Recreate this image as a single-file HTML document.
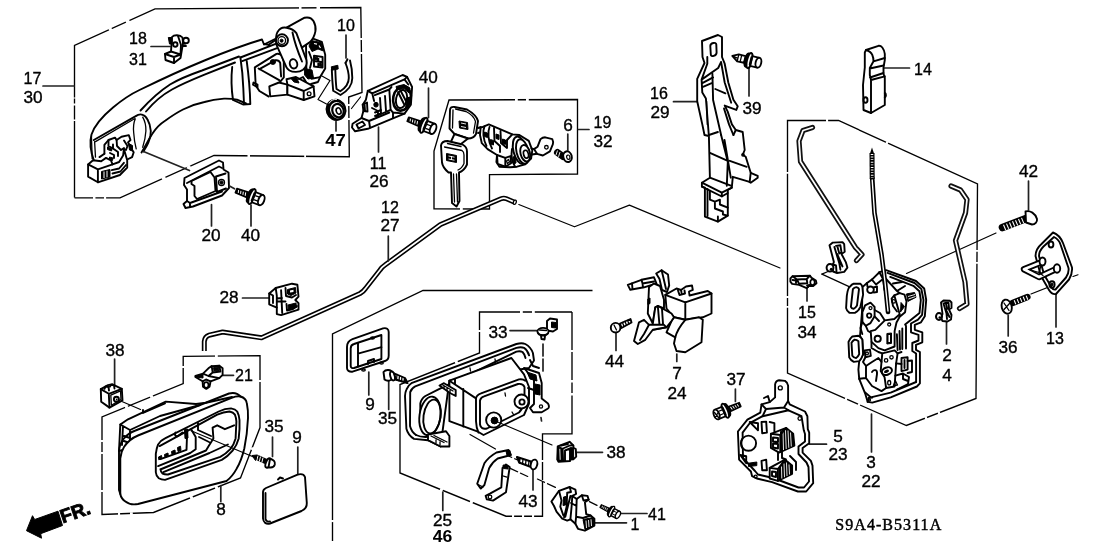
<!DOCTYPE html>
<html>
<head>
<meta charset="utf-8">
<title>Door Locks - S9A4-B5311A</title>
<style>
html,body{margin:0;padding:0;background:#fff;}
body{width:1108px;height:553px;overflow:hidden;font-family:"Liberation Sans",sans-serif;}
svg{display:block;}
.t{font-family:"Liberation Sans",sans-serif;font-size:16px;fill:#000;stroke:#000;stroke-width:0.350px;text-anchor:middle;}
.tb{font-family:"Liberation Sans",sans-serif;font-size:16px;font-weight:bold;fill:#000;text-anchor:middle;}
.l{fill:none;stroke:#222;stroke-width:1.7;stroke-linecap:round;stroke-linejoin:round;}
.lt{fill:none;stroke:#000;stroke-width:1.200;stroke-linecap:round;stroke-linejoin:round;}
.bx{fill:none;stroke:#000;stroke-width:1.350;stroke-linecap:butt;stroke-linejoin:miter;}
.p{fill:none;stroke:#000;stroke-width:1.9;stroke-linecap:round;stroke-linejoin:round;}
.pw{fill:#fff;stroke:#000;stroke-width:1.9;stroke-linecap:round;stroke-linejoin:round;}
.pt{fill:none;stroke:#000;stroke-width:1.3;stroke-linecap:round;stroke-linejoin:round;}
.k{fill:#000;stroke:#000;stroke-width:1;stroke-linejoin:round;}
.d{fill:none;stroke:#111;stroke-width:1.4;stroke-dasharray:28 4 8 4;}
</style>
</head>
<body>
<svg width="1108" height="553" viewBox="0 0 1108 553">
<rect x="0" y="0" width="1108" height="553" fill="#fff"/>
<defs>
<g id="bolt">
<path d="M-16,-2.100 L-3,-2.700 L-3,2.700 L-16,2.100 Z" fill="#000" stroke="#000" stroke-width="1.800" stroke-linejoin="round"/>
<path d="M-14,-1.400 L-13.300,1.400 M-11.500,-1.500 L-10.800,1.500 M-9,-1.600 L-8.300,1.600 M-6.500,-1.700 L-5.800,1.700" stroke="#fff" stroke-width="1" fill="none"/>
<ellipse cx="-1.200" cy="0" rx="2.400" ry="7" fill="#000" stroke="#000" stroke-width="1.600"/>
<ellipse cx="0.800" cy="0" rx="2.500" ry="8" fill="#fff" stroke="#000" stroke-width="1.900"/>
<path d="M2.500,-5.400 L10.800,-5.400 L10.800,5.400 L2.500,5.400 Z" fill="#fff" stroke="#000" stroke-width="1.900" stroke-linejoin="round"/>
<path d="M3.500,-2 L8,-2 M3.500,2.200 L8,2.200" stroke="#000" stroke-width="1.300" fill="none"/>
<path d="M2.300,-4.500 L2.300,4.500" stroke="#000" stroke-width="2.600"/>
<ellipse cx="10.800" cy="0" rx="2.900" ry="5.400" fill="#fff" stroke="#000" stroke-width="1.900"/>
</g>
</defs>
<g id="labels" style="filter:grayscale(1)">
<text class="t" x="32.500" y="84">17</text><text class="t" x="33" y="103" transform="translate(33,0) scale(1.075,1) translate(-33,0)">30</text>
<text class="t" x="138" y="43.700">18</text><text class="t" x="138" y="64.500">31</text>
<text class="t" x="346" y="31">10</text>
<text class="tb" x="335.500" y="146" transform="translate(335.500,0) scale(1.160,1) translate(-335.500,0)">47</text>
<text class="t" x="211" y="241.200" transform="translate(211,0) scale(1.075,1) translate(-211,0)">20</text>
<text class="t" x="250.500" y="241.200" transform="translate(250.500,0) scale(1.075,1) translate(-250.500,0)">40</text>
<text class="t" x="428.300" y="83.500" transform="translate(428.300,0) scale(1.075,1) translate(-428.300,0)">40</text>
<text class="t" x="378" y="169">11</text><text class="t" x="379" y="187" transform="translate(379,0) scale(1.075,1) translate(-379,0)">26</text>
<text class="t" x="568" y="131" transform="translate(568,0) scale(1.075,1) translate(-568,0)">6</text>
<text class="t" x="602.500" y="128">19</text><text class="t" x="603" y="147" transform="translate(603,0) scale(1.075,1) translate(-603,0)">32</text>
<text class="t" x="390" y="213">12</text><text class="t" x="390" y="231.500" transform="translate(390,0) scale(1.075,1) translate(-390,0)">27</text>
<text class="t" x="659" y="99">16</text><text class="t" x="660" y="118" transform="translate(660,0) scale(1.075,1) translate(-660,0)">29</text>
<text class="t" x="752" y="114" transform="translate(752,0) scale(1.075,1) translate(-752,0)">39</text>
<text class="t" x="923" y="75">14</text>
<text class="t" x="1028.500" y="177" transform="translate(1028.500,0) scale(1.075,1) translate(-1028.500,0)">42</text>
<text class="t" x="1055" y="344">13</text>
<text class="t" x="1008" y="353" transform="translate(1008,0) scale(1.075,1) translate(-1008,0)">36</text>
<text class="t" x="947" y="361.200" transform="translate(947,0) scale(1.075,1) translate(-947,0)">2</text><text class="t" x="947" y="381" transform="translate(947,0) scale(1.075,1) translate(-947,0)">4</text>
<text class="t" x="807" y="318.400">15</text><text class="t" x="807" y="338.500" transform="translate(807,0) scale(1.075,1) translate(-807,0)">34</text>
<text class="t" x="838" y="442" transform="translate(838,0) scale(1.075,1) translate(-838,0)">5</text><text class="t" x="838" y="460" transform="translate(838,0) scale(1.075,1) translate(-838,0)">23</text>
<text class="t" x="871" y="468" transform="translate(871,0) scale(1.075,1) translate(-871,0)">3</text><text class="t" x="871" y="487" transform="translate(871,0) scale(1.075,1) translate(-871,0)">22</text>
<text class="t" x="736" y="385" transform="translate(736,0) scale(1.075,1) translate(-736,0)">37</text>
<text class="t" x="677" y="379.500" transform="translate(677,0) scale(1.075,1) translate(-677,0)">7</text><text class="t" x="677" y="399" transform="translate(677,0) scale(1.075,1) translate(-677,0)">24</text>
<text class="t" x="614.500" y="366.700" transform="translate(614.500,0) scale(1.075,1) translate(-614.500,0)">44</text>
<text class="t" x="616" y="458" transform="translate(616,0) scale(1.075,1) translate(-616,0)">38</text>
<text class="t" x="657" y="520.300">41</text>
<text class="t" x="635" y="530">1</text>
<text class="t" x="528" y="507" transform="translate(528,0) scale(1.075,1) translate(-528,0)">43</text>
<text class="t" x="442.500" y="526" transform="translate(442.500,0) scale(1.075,1) translate(-442.500,0)">25</text><text class="tb" x="442.500" y="542.300" transform="translate(442.500,0) scale(1.1,1) translate(-442.500,0)">46</text>
<text class="t" x="498" y="338" transform="translate(498,0) scale(1.075,1) translate(-498,0)">33</text>
<text class="t" x="370" y="410" transform="translate(370,0) scale(1.075,1) translate(-370,0)">9</text>
<text class="t" x="387.500" y="424.200" transform="translate(387.500,0) scale(1.075,1) translate(-387.500,0)">35</text>
<text class="t" x="297" y="443" transform="translate(297,0) scale(1.075,1) translate(-297,0)">9</text>
<text class="t" x="274" y="432" transform="translate(274,0) scale(1.075,1) translate(-274,0)">35</text>
<text class="t" x="221" y="515" transform="translate(221,0) scale(1.075,1) translate(-221,0)">8</text>
<text class="t" x="244" y="381">21</text>
<text class="t" x="115" y="356" transform="translate(115,0) scale(1.075,1) translate(-115,0)">38</text>
<text class="t" x="229" y="303" transform="translate(229,0) scale(1.075,1) translate(-229,0)">28</text>
<text x="835.300" y="530" style="font-family:'Liberation Serif',serif;font-weight:normal;font-size:16px;fill:#000;stroke:#000;stroke-width:0.450px;letter-spacing:1.050px;">S9A4-B5311A</text>
</g>
<g id="box17">
<!-- dashed box around outer handle -->
<path class="bx" d="M74.500,197.500 V45.500 L155,8.800 L360.800,7.500 L362,92.500 L348.700,97 L349.300,156.700 L214,155.500 L120,197.800 L74.500,197.800"/>
<path d="M74.5,97.5 v1.05 M74.5,103.5 v2.1 M74.5,119.5 v1.4 M93,197.5 h2.45 M104,197.500 h2.1 M162,179 l3.5,-1.54 M187,168 l3.5,-1.54 M109,30 l2.8,-1.26 M126,22.300 l3.5,-1.61 M299,8 h2.500 M316.500,7.800 h3.500 M361.200,38 v2.100 M361.400,52 v2.100 M348.500,104 v2.1 M348.500,118 v2.1 M306,156.300 h-1.800 M250,155.800 h-2.500" stroke="#fff" stroke-width="3" fill="none"/>
<path class="l" d="M43,86 H74"/>
<path class="l" d="M151,46.5 H170"/>
</g>
<g id="handle">
<!-- handle body -->
<path class="p" d="M94,161 C90,150 90,140 91.5,134.5 C95,124 104,115 113,107.5 C122,100 131,94 139.5,90 C160,80 185,68.5 204.5,60.5 C225,52 245,44.5 262,39.5 L264,44.5 L275,39"/>
<path class="p" d="M140.5,110.5 C150,100 160,91 170,84.5 C181,78 192,74 202,70.5 L239,56.5"/>
<path class="p" d="M146,111.5 C153,103 162,95 172,89.5 C182,84 194,79 204.5,74.7 L235,62.5"/>
<path class="p" d="M141.5,152.5 C147,143 150,137 152.5,133.5 C156,128 160,124 165.5,120.5 C171,116.5 177,112.5 183,109.5 C190,106 197,103.5 204.5,102 C211,100 218,99 224,98.6 C229,98.5 234,99 237,99.7 L246,103.5"/>
<!-- end opening -->
<path class="p" d="M93.800,140 L135.300,116.400 C138,114.500 141,114 142.700,114.800 C145,115.500 146.500,117.500 147.500,119.600 C149.500,123 150.500,127 150.800,131 C151,135 150,139 148.400,142.400 C147,146 145,149 143.500,151.400"/>
<path class="pt" d="M95.500,141.600 L134.500,118.800 M135.300,118.800 C133.500,123 133.200,128 133.700,132.700 C134,138 135,144 136.200,148.900 M142.700,117.200 C145,121 146,126 145.900,131 C145.500,137 144.500,142 142.700,147.300"/>
<path class="pt" d="M94.600,141.600 L95.500,157.100 M91.400,136 L92.200,158.700"/>
<!-- inner mechanism -->
<path class="p" d="M104.400,153.800 L104.400,144.900 L108.500,140 L115,137.600 L116.600,140 L121.500,136.700 L128.800,135.100 L130.500,140 L128,142.400 L130.500,147.300 L133.700,152.200 L132.100,157.100 L127.200,159.500"/>
<path class="p" d="M108.500,140 L108.500,146 L113,148.500 L113,144.500 M116.600,140 L117,146 L121,150 L124,148 M113,148.500 L118,152 L118,156 M104.400,153.800 L99.500,157.100 M110,153 L114,155 L114,158"/>
<path class="k" d="M107.500,147 L112,149 L111.500,151 L107.500,149.500 Z M109.500,157 L113,158 L112.500,160.500 L109.500,159.500 Z M128.500,143.500 L132.500,145.500 L132.500,151 L129.500,150 Z"/>
<path class="p" d="M124,140.500 L127.500,146 L126,150 L123.900,149"/>
<!-- latch block -->
<path class="pw" d="M88.100,164.400 L93,160.300 L101.200,161.200 L106,157.900 L110.900,160.300 L112.600,164.400 L119.100,162 L123.100,155.500 L123.900,149 L127.200,160.300 L127.200,167.700 L119.900,175 L97.900,182.300 L88.100,176.600 Z"/>
<path class="p" d="M88.100,164.400 L97.900,169.300 L97.900,182.300 M97.900,169.300 L112.600,164.400 M111.700,170.100 L119.100,168.500 L123.900,162.800 M112.500,173.500 L120.500,171.500 L126,165"/>
<path class="k" d="M101.500,171.500 L110,169.500 L110,177 L101.500,179 Z"/>
<path d="M104,171.500 L104,178 M107,170.800 L107,177.300" stroke="#fff" stroke-width="1" fill="none"/>
<!-- right end: vertical cap -->
<path class="p" d="M232.200,67 C231,78 231.500,90 233,100 M240.400,57.500 C242,68 243,80 243.300,88 L244,104 M246.700,61 C248.500,74 250,90 250.300,104 M233,100 L243,104.500 L250.300,104"/>
<path class="p" d="M240.400,57.500 L280.200,42.100 M242.200,61.100 L281.100,46.600 M264,44 L268.500,44.800 L276.500,39.400"/>
<!-- housing opening -->
<path class="p" d="M254.800,67.400 L276.500,53.900 C279,53.500 281,54.500 282,55.700 L283.800,62 L283.800,77.400 L279.200,82.800 M254.800,67.400 L255.700,85.500 L259.400,91 L268.400,96.400"/>
<path class="p" d="M259.400,69.200 L275.600,60.200 C278,60 279.500,61 280.200,62.900 L281.100,76.500 M258.500,68.500 L279.200,80.100"/>
<ellipse class="k" cx="272.900" cy="62" rx="2.600" ry="2.400"/>
<path class="p" d="M253,84.600 L257.500,87.300 L257.500,84.500 L253.500,82.500 Z"/>
<!-- lower block -->
<path class="pw" d="M269.300,86.400 L279,82.500 L287.400,84.600 L287.400,94.600 L270.200,96.400 Z"/>
<path class="pw" d="M286.500,79.200 L296,77 L313.600,86.400 L314.500,96.400 L303.700,100 L287.400,94.600 L287.400,84.600 Z"/>
<path class="p" d="M287.400,84.600 L303.700,91 L313.600,86.400 M303.700,91 L303.700,100"/>
<circle class="pt" cx="309.100" cy="93.700" r="1.900"/>
<path class="k" d="M291,78.500 L296.500,77.500 L299,83 L294,82 Z"/>
<path class="p" d="M299,79 L303,77 L306,82"/>
<!-- mechanism behind arm -->
<path class="pw" d="M306,42 L312.300,38.400 L321.800,41.800 L325.200,54.700 L325.200,68.500 L320.100,77.100 L311.500,78.800 L306.400,70 Z"/>
<path class="k" d="M311.500,40.500 L321,42.500 L323.500,51 L318,49 L312,51.500 L309,46 Z M304.600,68.500 L312,70 L313.500,78 L308,79 L304.600,75 Z"/>
<path d="M314,43.500 L317,44.200 M319,45.500 L320.500,48" stroke="#fff" stroke-width="1.200" fill="none"/>
<path class="p" d="M314,55.600 L322.600,57 L322.600,67.600 L314,66.500 Z M318.300,56.500 L318.300,67 M314,61 L322.600,62.300 M309,52 L312,60 L310,68 M320.100,77.100 L318,82 L311,84"/>
<path class="k" d="M315,57 L317.500,57.400 L317.500,60 L315,59.600 Z M319.300,63.300 L321.800,63.700 L321.800,66.500 L319.300,66.100 Z"/>
<!-- crank cylinder -->
<path class="pw" d="M286.500,27.700 L304.600,17.700 C309,16.800 312,18.500 313.600,21.300 C315.600,25 316,28 315.400,31.300 C314.500,36 312.500,39.500 310,42.100 L299.100,49.400 Z"/>
<!-- crank arm -->
<path class="pw" d="M276.500,44.800 C275.500,39 276,35 277.400,32.200 C279.500,28.500 283,27 286.500,27.700 C291,28.500 294.500,30.500 296.400,33.100 L306.400,60 C307.200,64 306,67.500 303,69.800 C299,72.500 293,72.500 289.500,70.500 C288,69.500 287,68.500 286.500,67.400 Z"/>
<circle class="p" cx="282" cy="40.300" r="6"/>
<circle class="pt" cx="281.800" cy="40.500" r="3.800"/>
<circle class="k" cx="281.600" cy="40.700" r="1.500"/>
<ellipse class="p" cx="293.500" cy="63.800" rx="3.700" ry="4.700" transform="rotate(-15 293.500 63.800)"/>
<path class="p" d="M292.500,32.500 C294,40 298,52 302,61.500"/>
</g>
<g id="p18">
<path class="pw" d="M172,37 C174,34.5 180,34.5 182.5,37.5 L183,43 L180.5,58 L174,63 L165.5,60 L165,54 L171,51.5 Z"/>
<path class="p" d="M171,51.5 L180.5,54.5 M174,57 L174,63 M165,54 L174,57 L180.5,54.5 M178,36 L181,45 L180.5,54"/>
<circle class="p" cx="175.3" cy="44.5" r="2.2"/>
<circle class="p" cx="186" cy="40.5" r="2.8"/>
<path class="k" d="M168.300,37.500 L172,37.500 L172.300,44 L169.500,44 Z"/><path class="p" d="M183,46 L186,46 M183,43.500 L185,43.800"/>
</g>
<g id="p10">
<path class="l" d="M346,35 V58"/>
<path class="p" d="M347.500,59.300 L345.500,63 M350,60.500 C351.500,66 352.300,72 352.300,78 C352.300,86 348,90.500 340.500,95 L333.200,90.800 C332.500,84 332,76 331.800,69.500"/>
<path class="p" d="M345.500,63 C347.500,68 348.800,73 348.800,78 C348.800,84 346,87.500 340.300,91.300 L336.500,89 C335.800,83 335.500,76 335.300,69.500"/>
<path class="k" d="M331.300,66.800 L337.800,65.300 L338.200,69 L331.800,70.200 Z"/>
<path class="lt" d="M321,75.500 L330,80.500 L318,99.500 L326.500,104"/>
</g>
<g id="p47">
<ellipse cx="336" cy="109.800" rx="9.600" ry="10.400" transform="rotate(-20 336 109.800)" fill="#000" stroke="#000" stroke-width="1.500"/>
<ellipse cx="337.200" cy="110.200" rx="7" ry="8.300" transform="rotate(-20 337.200 110.200)" fill="#fff"/>
<ellipse cx="338" cy="110.600" rx="5.600" ry="6.800" transform="rotate(-20 338 110.600)" fill="none" stroke="#000" stroke-width="2.200"/>
<ellipse cx="338.600" cy="111" rx="2.300" ry="3.300" transform="rotate(-20 338.600 111)" fill="#fff" stroke="#000" stroke-width="1.600"/>
<path d="M329,103.500 C330.500,100.500 333.500,99 337,99.300" stroke="#fff" stroke-width="1" fill="none"/>
<path class="l" d="M336,121.500 V131"/>
</g>
<g id="p20">
<path class="l" d="M143.5,151.5 L189.5,170.5"/>
<path class="pw" d="M184.5,178 L219,160.5 L223,162.5 L223.5,169.5 L228.5,172.5 L229,188 L222,195.5 L193,206.5 L185.5,208 L183.5,204 L187,201 L187,189.5 L184,185 Z"/>
<path class="p" d="M191.5,181 L210.5,172 L214.5,177.5 L215.5,191 L197,199 L194.5,196 L194.5,186 L191.5,184 Z"/>
<path class="p" d="M187,183 L219,166.5 L222,168 M216,176.5 L225.5,173.5 M217,192 L226,188.5 M216,176.5 L217,192 M190,203 L222,191.5 M187,201 L190,203 L190,207"/>
<circle class="k" cx="221.5" cy="182.5" r="1.6"/><circle class="pt" cx="221.5" cy="182.5" r="3"/>
<path class="l" d="M211.5,204.5 V226 M251,205 V226"/>
<path class="l" d="M229.5,186 L234.5,188.8" />
</g>
<g id="bolt40a"><use href="#bolt" transform="translate(251.200,196.300) rotate(20.500)"/></g>
<g id="p11">
<path class="lt" d="M360.500,97 L351.500,108.500"/>
<path class="pw" d="M367.800,90.800 L402.600,75 L407.100,76.900 L412.100,87 L410.900,104.700 L404.500,113.600 L389.300,119.900 L367.800,128.800 L355.100,131.300 L352,127.500 L352.600,123.700 L361.500,118 L363.400,111.100 L362.700,104.700 L365.900,99.700 Z"/>
<path class="p" d="M367.800,90.800 L372.200,93.300 L404.500,79.400 L407.100,76.900 M404.500,79.400 L408.300,84.500 M372.200,93.300 L374.100,101"/>
<path class="p" d="M374.800,95.200 L389.300,89.500 L390.600,109.800 L376.500,116 M389.300,89.500 L391.500,87 M380,98 L381,113 M385,96 L386,111"/>
<ellipse cx="402" cy="98.400" rx="8.800" ry="12.300" transform="rotate(12 402 98.400)" fill="#fff" stroke="#000" stroke-width="2.600"/>
<ellipse cx="401.500" cy="99" rx="5.400" ry="9.200" transform="rotate(12 401.500 99)" fill="#fff" stroke="#000" stroke-width="1.900"/>
<path class="k" d="M396,86.500 L404,84.500 L410,88 L409,93 L404,88.500 L397,90 Z M407,98 L410,97 L409,105 L405.500,108 Z"/>
<path class="p" d="M398,92 L404,104 M400.500,90.500 L406.500,102"/>
<path class="p" d="M390.600,109.800 L393,112.500 L404.500,113.600 M393,112.500 L393,118"/>
<ellipse class="k" cx="376" cy="104.700" rx="2.200" ry="2.400"/>
<path class="p" d="M362.700,104.700 L367,102.500 L367.500,111.500 L363.400,111.100 M364.500,104 L365,111 M372,108 L378,111 L378,117 M375,112.500 L381,110 M375,116 L381,113.500"/>
<path class="p" d="M361.500,118 L369,121 L370,127.500 M369,121 L389.300,112.500 M356.500,124.500 L362.500,121.500 L365,125 L358.500,128.500 Z"/>
<path class="l" d="M378.500,127 V152"/>
</g>
<g id="bolt40b"><path class="l" d="M428.500,88 V117.500"/><use href="#bolt" transform="translate(423,125) rotate(21)"/></g>
<g id="box19">
<path class="bx" d="M449,100 L577.500,99.500 V174 L489.500,174.700 V209 L434,208.800 V151 Z"/>
<path d="M515,99.800 h2.8 M526,99.700 h2.8 M460,209 h2.8" stroke="#fff" stroke-width="3" fill="none"/>
<path class="l" d="M578.500,129.500 H589 M567.800,134 V150"/>
</g>
<g id="keys">
<!-- key 1 -->
<path class="pw" d="M450,110 C450,107.500 452,106.500 454.500,107 L467,109.500 C473,113 477,117 478,121 L476,134 C474.500,137 471.500,138.500 468,138.500 L454.500,134 L449.500,128.500 Z"/>
<path class="pt" d="M453,110 L452.500,128 M455.500,109 L466,111.500 C471,114 474.500,118 475.500,121.500 L473.500,133"/>
<path class="pw" d="M454.500,134 L449,146 L461,144 L468,138.500 Z"/>
<path class="k" d="M459,121 L467.500,122.500 L468,129.500 L459.500,128 Z"/>
<path d="M461,123 L466,124 M461,126.500 L466,127.500" stroke="#fff" stroke-width="0.900"/>
<path class="p" d="M478,128 L481,127 L481.500,132 L478,133"/>
<!-- key 2 -->
<path class="pw" d="M441,145.500 C441.500,142.500 444,141 447.500,141 L462.500,144.500 C465.500,146 467,148.500 467,151.500 L467,164.500 C465,169 462,171.500 459,172.500 L459.500,201 L456.500,206.500 L452,203 L451,172.500 L448.500,172.500 C445,169.500 442.500,166 442,162.500 Z"/>
<path class="pt" d="M444.500,147 L462,150.500 C463.500,151.500 464,153 464,155 L464,163.500 C462.500,167 460.500,169 458,170 M453.500,174 L454.500,202 M456.500,174 L457.500,202 M447.500,143.500 L461,146.500"/>
<path class="k" d="M446.500,153.500 L456.500,155.500 L456.500,162.500 L446.500,160.500 Z"/>
<path d="M448.500,156 L454.500,157.200 M448.500,159 L454.500,160.200 M451.500,156 V160" stroke="#fff" stroke-width="0.900" fill="none"/>
</g>
<g id="cyl">
<path class="pw" d="M480.600,127.900 L488.800,124.400 L512.300,134.400 L519.400,135 L528.800,140.900 L532.300,150.300 L531.100,158.500 L525.200,164.400 L517,166.700 L510,167.300 L499.400,166.700 L496.400,162 L497,155 L487.600,149.100 L481.800,143.200 L480,135 Z"/>
<path class="p" d="M484.500,126.300 C482.500,131 483,139 486.500,146 M489.500,127 C487.500,132 488,141 492,148.500 M494,128 L494.500,141 L500,146 L500,152 M500.500,131 L501,143 L507,148 L507,140 L512.300,134.400"/>
<path class="k" d="M484.500,132 L487.500,133 L487.500,137.500 L484.500,136.500 Z M490.500,139.500 L493.500,140.500 L493.500,145 L490.500,144 Z M496,134 L499,135 L499,139.500 L496,138.500 Z M502.500,139 L505.500,140 L505.500,144.500 L502.500,143.500 Z"/>
<path class="pw" d="M497,155 L505.300,157.900 L510.500,156.100 L511.100,163.200 L505.300,166.700 L497.600,163.800 Z"/>
<path class="p" d="M505.300,157.900 L505.300,166.700"/>
<path class="pt" d="M506.500,161 L508.500,159.500 L509.500,162 L507.500,163.500 Z"/>
<ellipse cx="520" cy="150.300" rx="6.600" ry="14" transform="rotate(-14 520 150.300)" fill="#fff" stroke="#000" stroke-width="2"/>
<ellipse cx="522.500" cy="151.500" rx="6" ry="12.500" transform="rotate(-14 522.500 151.500)" fill="#fff" stroke="#000" stroke-width="1.900"/>
<ellipse cx="525.200" cy="153.200" rx="4.700" ry="8.400" transform="rotate(-14 525.200 153.200)" fill="#fff" stroke="#000" stroke-width="1.900"/>
<ellipse cx="526" cy="154.200" rx="2.400" ry="4" transform="rotate(-14 526 154.200)" fill="#fff" stroke="#000" stroke-width="1.700"/>
<path class="k" d="M513,157 L515.500,156 L516,163 L513.500,164 Z"/>
<path class="p" d="M512,149 C511,155 512,162 515,166.500"/>
<path class="pw" d="M534,149.100 L537.600,146.700 L540.500,139.100 C542,137.800 543.500,137.300 545.200,137.300 L552.300,139.100 C553.200,140.800 553.300,142.500 552.800,144.400 L549.900,151.400 L542.900,155.500 L537,153.800 Z"/>
<circle class="pt" cx="546.400" cy="147.300" r="1.800"/>
<path class="p" d="M531.500,148.500 L534,149.100 M532,154.500 L537,153.800"/>
</g>
<g id="screw6">
<path d="M557.500,152.500 L563,156.500" stroke="#000" stroke-width="7" stroke-linecap="round" fill="none"/>
<path d="M557.500,150.500 L556,155 M560,152 L558.500,156.800" stroke="#fff" stroke-width="0.900" fill="none"/>
<ellipse cx="567.500" cy="156.700" rx="4.200" ry="5.400" transform="rotate(-15 567.500 156.700)" fill="#fff" stroke="#000" stroke-width="2"/>
<ellipse cx="568.300" cy="157.200" rx="1.600" ry="2.200" transform="rotate(-15 568.300 157.200)" fill="none" stroke="#000" stroke-width="1.200"/>
</g>
<g id="rod12">
<path d="M204.300,351 L204.300,341.500 Q204.800,336.500 209,335.200 L222.600,332 L261.600,337.800 L360,293.500 Q363.500,291.500 365.500,288.500 L380,270 Q382,267 385,265 L440.500,224.500 L501,198.800 Q503.800,197.600 506.500,198.800 L514,202" fill="none" stroke="#000" stroke-width="5" stroke-linejoin="round" stroke-linecap="butt"/>
<path d="M204.300,351.800 L204.300,341.500 Q204.800,336.500 209,335.200 L222.600,332 L261.600,337.800 L360,293.500 Q363.500,291.500 365.500,288.500 L380,270 Q382,267 385,265 L440.500,224.500 L501,198.800 Q503.800,197.600 506.500,198.800 L515,202.400" fill="none" stroke="#fff" stroke-width="1.700" stroke-linejoin="round" stroke-linecap="butt"/>
<ellipse class="pt" cx="514.800" cy="202.200" rx="1.400" ry="2.200" transform="rotate(20 514.800 202.200)" fill="#fff"/>
<path class="l" d="M388.300,236 V261"/>
</g>
<g id="p16">
<path class="l" d="M673.500,101.700 H697"/>
<!-- outline -->
<path class="pw" d="M702,41 L718,35 L722,37 L722,57 L724.700,63.700 L728.300,82.500 L733.400,99.800 L737.700,106.300 L736.300,109.900 L724.700,105.600 L727.600,111.400 L731.900,124.400 L735.800,130 L742.700,132 L744.700,150 L742.700,154.800 L745.700,156.800 L750.700,172.800 L757.700,175.800 L757.700,177.700 L750.700,182.700 L748.700,181.700 L732.800,176.800 L731.800,187.700 L727.800,190 L727.800,215.600 L717.900,221.600 L704.900,216.600 L704.900,187.700 L701.900,186.700 L701.900,182.700 L709.900,177.700 L708.900,136 L704.500,135 L702.300,124.400 L697.200,101.300 L697.200,78.900 L704.500,63 L702.500,57 Z"/>
<!-- slot -->
<path class="p" d="M710.300,46 C710.300,43 716.300,41.500 716.300,44.500 L716.600,52.500 C716.600,56 710.800,57.500 710.800,54.500 Z"/>
<!-- upper inner -->
<path class="p" d="M707.300,57 L707.300,63.700 L701.600,79.600 L702.300,92.600 L705.900,98.400 L708.800,135 M701.600,79.600 L718.200,68 L721,62.200 M702.300,83.200 L713.100,77.400 M703,86.800 L711.700,83.200"/>
<path class="p" d="M712.400,73.800 L713.100,100 L721.100,135 M715.300,89 L725.400,93.300"/>
<path class="p" d="M721.100,62.200 L724.700,82.500 L731.200,102.700 M724,108.500 L729,124.400 L733.400,135"/>
<path class="pt" d="M706.600,101.300 L707.300,124.400"/>
<!-- lower inner -->
<path class="p" d="M708.900,135 L717.900,132 M709.900,152.900 L727.800,160.800 M729.800,160.800 L746.700,166.800 M721.100,135 L727.800,161.800 L726.800,185.700 M724.500,140 L730.800,177.700 M733.400,135 L735.800,130 M750.700,172.800 L749.700,181.700"/>
<path class="p" d="M701.900,182.700 L721.800,192.700 L731.800,187.700 M701.900,186.700 L721.800,196.500 M721.800,192.700 L721.800,196.500 L727.800,193 M709.900,177.700 L730.800,185.700"/>
<path class="p" d="M709.900,190.700 L709.900,199.700 L714.900,201.600 L714.900,208.500 L722.900,211.500 L722.900,214.500 L727.800,215.600 M714.900,201.600 L719.900,199.700 L719.900,204.500 L727.800,207.600 M717.900,221.600 L717.900,216.500 M707.500,189 L707.500,216"/>
<circle class="pt" cx="743" cy="154.800" r="1.200"/>
</g>
<g id="bolt39">
<path class="l" d="M749,68 V96"/>
<g transform="translate(748.700,60.400) rotate(13.500)">
<path d="M-17,-0.500 L-11,-3.600 L-4,-3.400 L-4,3.400 L-11,3.600 Z" fill="#fff" stroke="#000" stroke-width="1.900" stroke-linejoin="round"/>
<path d="M-11,-3.600 L-11,3.600 M-8,-3.500 L-8,3.500 M-17,-0.500 L-11,0.500" stroke="#000" stroke-width="1.300" fill="none"/>
<ellipse cx="-1.500" cy="0" rx="2.400" ry="7" fill="#000" stroke="#000" stroke-width="1.600"/>
<ellipse cx="0.800" cy="0" rx="2.500" ry="7.800" fill="#fff" stroke="#000" stroke-width="1.900"/>
<path d="M2.500,-5 L10,-5 L10,5 L2.500,5 Z" fill="#fff" stroke="#000" stroke-width="1.900" stroke-linejoin="round"/>
<path d="M2.300,-4.200 L2.300,4.200" stroke="#000" stroke-width="2.600"/>
<ellipse cx="10" cy="0" rx="2.800" ry="5" fill="#fff" stroke="#000" stroke-width="1.900"/>
</g>
</g>
<g id="p14">
<path class="l" d="M884.500,68 H909.500"/>
<path class="pw" d="M866,50 L878.500,45.800 C880,45.600 881.500,46.500 882.300,47.500 C883.800,49.500 884.500,51.500 884.800,53.800 L884.800,60 L883.500,67.500 L883.500,73.800 L884.800,77.500 L884.800,105 L871,113 L863.500,110 L863,85 L864.800,67.500 L864.800,52.500 Z"/>
<path class="p" d="M866,50 C869,51 871.500,53 872.300,55 C873.200,57 873.500,59 873.500,61.300 L884.800,58 M873.500,61.300 L869.800,68 L869.800,75 L871,80 L871,113 M869.800,68.500 L883.500,65.500 M870,77.500 L883.500,73 M871,80 L884.800,76.300"/>
<ellipse class="p" cx="865.500" cy="100" rx="2" ry="2.800"/>
<path class="p" d="M884.800,93 C886.300,93.500 886.300,97 884.800,97.500"/>
</g>
<g id="box3">
<path class="bx" d="M787.500,373 V120.500 H838.500 L977.500,184 L976,398.500 L906.400,425.500 Z"/>
<path d="M826,120.500 h2.1 M787.500,172 v1.75 M787.500,296 v2.1 M787.500,306 v1.75 M886,142.200 l2.1,0.98 M977,250 v1.750 M977,262 v1.750 M845,398.400 l2.100,0.930 M858,404.100 l2.100,0.930 M925,418.500 l2.100,-0.800 M938,413.500 l2.100,-0.800" stroke="#fff" stroke-width="3" fill="none"/>
<path class="l" d="M871.500,414 V452"/>
<path class="lt" d="M518.800,204.500 L574.500,226.800 L629.400,205.100 L780,268"/>
<path class="lt" d="M821.900,274.100 L849.100,286.600 M906.500,273.500 L996,233"/>
</g>
<g id="rods">
<!-- rod left -->
<path d="M812.500,127.500 L803,130.500 L799,141 L800.500,161.500 L855.500,247.500 L862,254.500 L856.500,260.500" fill="none" stroke="#111" stroke-width="5.200" stroke-linejoin="round" stroke-linecap="round"/>
<path d="M812.500,127.500 L803,130.500 L799,141 L800.500,161.500 L855.500,247.500 L862,254.500 L856.500,260.500" fill="none" stroke="#fff" stroke-width="1.700" stroke-linejoin="round" stroke-linecap="round"/>
<!-- rod right -->
<path d="M951,186 L960.500,190 L967,199.500 L965.500,213 L955.500,240.500 L965,282 L967,304 L959.500,308.500" fill="none" stroke="#111" stroke-width="5.200" stroke-linejoin="round" stroke-linecap="round"/>
<path d="M951,186 L960.500,190 L967,199.500 L965.500,213 L955.500,240.500 L965,282 L967,304 L959.500,308.500" fill="none" stroke="#fff" stroke-width="1.700" stroke-linejoin="round" stroke-linecap="round"/>
</g>
<g id="latch">
<!-- housing silhouette -->
<path class="pw" d="M867,283 L871.900,279.600 L879.400,272.200 L886.100,270.100 L916,281 L924.200,288.500 L926.200,300 L924.800,316.300 L921,322.300 L914.800,324.800 L914.800,329.800 L922.300,332.300 L922.300,342.300 L916,344.800 L916,349.800 L919.900,352 L919.900,383.400 L916.900,386.500 L890.700,397.300 L872.300,402.600 L867.700,401.900 L865.400,394.200 L859.200,378.800 L858.400,369.600 L859.200,361.100 L863.100,354.200 L862.300,339.600 L860,336 L862,312 L862.400,287.100 Z"/>
<!-- upper frame double lines -->
<path class="p" d="M887.500,272.900 L914.600,283 L921.400,289.100 L923.500,300 L922.100,314.900 L918,319.700 L911,323.500 L911,332.300 L918.500,334.800 L918.500,340.500 L912.300,343 L912.300,351 L916.100,353.500 L916.100,382"/>
<path class="p" d="M890.200,276.900 L913.300,285.800 L919.400,291.200 L920.800,300 L919.500,313 L905.100,324.400 L906,326 L906,348.500"/>
<path class="p" d="M902.300,328.500 L902.300,349 M879.400,272.200 L883,279 L876,284.500 L871.900,279.600 M883,279 L884.500,290"/>
<!-- boss -->
<circle class="pw" cx="870.500" cy="289.800" r="3.300"/>
<path class="p" d="M873.500,287.500 L877,286.500 L877,292 L873.800,292.500 M867,283 L867.500,286.800"/>
<!-- right dark block -->
<path class="k" d="M906.500,293.900 L914.600,292.500 L916,297.300 L907.900,301.400 Z"/>
<path d="M908,296.500 L915,294.500 M908.500,299 L915.500,296.500" stroke="#fff" stroke-width="0.900" fill="none"/>
<path class="p" d="M886.100,279 L897,291 L899.700,293.200 M897,291 L905,286 M893,283.500 L902,282"/>
<!-- left lever -->
<path class="pw" d="M865.100,305.400 L870.500,302.700 L874.600,306.800 L874.600,316.300 L870.500,323.100 L865.800,325.800 L862.400,322 L862.400,312.200 Z"/>
<circle class="pt" cx="870.500" cy="308.100" r="1.500"/>
<circle cx="869.200" cy="315.600" r="2.200" fill="#fff" stroke="#000" stroke-width="1.800"/>
<path class="p" d="M874.600,310 L880,313 L884.800,320.400 M874.600,316.300 L879,321 M865.800,325.800 L868,331 L871.500,333 M862.400,322 L860.500,328 L862.300,334"/>
<!-- centre lever -->
<path class="pw" d="M875.300,329.900 L884.800,320.400 L894.300,319 L899.700,314.300 L894.300,295.300 L899.700,293.200 L904.500,294.600 L906.500,301.400 L905.100,312.200 L899.700,316.800 L896.500,322.500 L894.600,331.100 L894.600,346.500 L884.600,350.400 L878.400,348.100 L871.500,341.900 L870.700,331.100 Z"/>
<path class="k" d="M901,302.500 L904.500,306.500 L900.500,312 Z"/>
<path class="p" d="M891.600,298.600 L894.300,295.300 M891.600,298.600 L893,306 L897,311.500"/>
<circle class="pt" cx="893.600" cy="301.400" r="1.800"/>
<circle class="p" cx="877.700" cy="338.800" r="3.100"/>
<circle class="pt" cx="889.200" cy="324.500" r="1.500"/>
<path class="k" d="M886.900,333.500 L891.500,333 L891.500,343.400 L886.900,344 Z"/>
<path d="M888.500,335 L890,335 L890,342 L888.500,342 Z" fill="#fff"/>
<!-- right column pieces -->
<path class="p" d="M896.900,334.200 L897.600,350 M899.500,331 L900,349.500"/>
<path class="pw" d="M901.500,358 L907.600,357.300 L907.600,369.600 L901.500,371.100 Z"/>
<path class="p" d="M904.500,360 L904.500,368 M907.600,361 L912,360.500 L912,372 L907.600,373"/>
<!-- loops -->
<path class="pw" d="M846.800,295.900 C847.500,290 849,287 850.200,286.400 C851.500,284.500 852.500,283.900 853.600,283.700 L860.400,283.700 C861.500,284.500 862.200,285.700 862.400,287.100 L863.100,294.600 L860.400,306.800 C859,310 857,312 854.900,312.900 L849.500,312.900 C847.500,311.500 846.500,310 846.100,308.100 Z"/>
<path class="p" d="M852.900,289.100 C853.800,288 855,287.300 856.300,287.100 C857.500,287.300 858.500,288 859,289.100 L857,305.400 C856,307 855,308.200 853.600,308.800 C852.300,308.500 851.300,307.800 850.900,306.800 Z"/>
<path class="pw" d="M848.500,341.900 C849.500,339.500 851,337.500 852.300,336.500 L858.400,335.800 C860,336.500 861.500,338 862.300,339.600 L863.100,354.200 C862,357.500 860.500,359.800 859.200,361.100 L853.800,361.900 C851.800,360.800 850,359 849.200,357.300 Z"/>
<path class="p" d="M851.500,342.700 C852.300,341.300 853.500,340.200 854.600,339.600 C856,339.700 857.500,340.300 858.400,341.100 L859.200,354.200 C858.300,356 857.200,357.300 856.100,358.100 C854.500,357.800 853,356.800 852.300,355.700 Z"/>
<!-- lower plate -->
<path class="pw" d="M882.300,353.400 L894.600,350.400 L897.600,353.400 L896.100,363.400 L895.300,375.700 L894.600,386.500 L886.100,388 L884.600,377.300 L880.700,371.100 L881.500,361.900 Z"/>
<circle class="pt" cx="886.100" cy="360.400" r="1.700"/><circle class="pt" cx="891.500" cy="357.300" r="1.700"/>
<ellipse cx="886.900" cy="371.100" rx="5.200" ry="3.600" transform="rotate(-20 886.900 371.100)" fill="#fff" stroke="#000" stroke-width="2"/>
<ellipse cx="886.500" cy="371.300" rx="2.600" ry="1.500" transform="rotate(-20 886.500 371.300)" fill="#000"/>
<ellipse class="pt" cx="889.200" cy="382.700" rx="1.500" ry="2.200"/>
<path class="pt" d="M893.500,385.500 L895.300,380.500 L897.500,385 Z"/>
<!-- lower left body -->
<path class="pw" d="M864.600,350.400 L870,349.600 L870.800,355.800 L865.400,357.300 Z"/>
<circle class="pt" cx="867" cy="353.400" r="1.400"/>
<path class="p" d="M863.100,354.200 L864.600,352 M865.400,357.300 L863,362 L866,366 L872,362 L878.400,358 L881.500,361.900 M866,366 L866,378 L872,386 L881.500,391.100 L886.100,388 M872,372 C874,369 877.500,369.500 877,374 L876,381 M859.200,378.800 L866,378 M871.500,341.900 L871.500,348 L878.400,352 L882.300,353.400"/>
<path class="p" d="M897.600,353.400 L901.500,352 M896.100,363.400 L901.500,364 M895.300,375.700 L903,373.500 L909,377 L908,384 L897,389.500 M903,373.500 L903,379 L908,381"/>
<path class="p" d="M865.400,392.600 L870.700,397.300 L890.700,392.600 L916.100,382 M867.700,401.900 L868.500,398 L872.300,397.500"/>
<circle class="pt" cx="869.500" cy="400" r="1"/>
<!-- centre rod into latch -->
<path d="M872.200,178 L874.500,213 L881.500,254.500 L885,282 L888,312" fill="none" stroke="#000" stroke-width="4.600" stroke-linejoin="round" stroke-linecap="round"/>
<path d="M872.200,180 L874.500,213 L881.500,254.500 L885,282 L888,311" fill="none" stroke="#fff" stroke-width="1.400" stroke-linejoin="round" stroke-linecap="round"/>
<path d="M872,153 L872.200,179" fill="none" stroke="#000" stroke-width="5"/>
<path d="M872,154 L872.200,178" fill="none" stroke="#fff" stroke-width="2.600" stroke-dasharray="0.900 1.700"/>
<path d="M869.800,154 L872,147.500 L874.200,154 Z" fill="#000"/>
</g>
<g id="lever_small">
<path class="pw" d="M829.500,245.300 L832.800,242.600 L842.500,242.100 L844.200,244.200 L844.700,251.800 L841.500,254 L845.800,262.100 L847.400,267.600 L844.200,271.900 L837.100,273 L833,271.500 L832.800,264.300 L833.900,262.100 Z"/>
<path class="p" d="M836,245.900 L840.400,245.300 L841.500,252.400 L839.300,253.500 L837.500,247 M834.400,246.900 L839.300,263.200 L840.400,269.700 M837.100,254 L842.500,266.500"/>
<ellipse cx="830" cy="267.800" rx="3.400" ry="3.800" fill="#fff" stroke="#000" stroke-width="2"/>
<circle cx="831.300" cy="269.300" r="1.500" fill="#000"/>
<path class="p" d="M833,264.500 L836,265.500 L836.500,271.500"/>
<path class="lt" d="M821.900,274.100 L828,271.500"/>
</g>
<g id="p15">
<path class="l" d="M807,288 V301"/>
<path class="pw" d="M790.400,278.400 L792.600,276.300 L810,275.700 L811.600,277.900 L815.900,280.600 L816.500,283.300 L813.200,286 L808.300,286 L806.700,288.200 L799.100,284.900 L792.100,283.900 L790.400,281.700 Z"/>
<path class="p" d="M797,279.500 L806.700,279 L807.300,283.200 L799.100,283.800 Z M792.600,276.300 L797,279.500 M810,275.700 L806.700,279 M792.500,280 L796,280.500 L796,283"/>
<ellipse cx="812.500" cy="282.300" rx="2.200" ry="2.800" fill="#fff" stroke="#000" stroke-width="1.700"/>
<path class="k" d="M806.500,285 L810,284.500 L808,288 Z"/>
</g>
<g id="p2">
<path class="l" d="M946.500,321.500 V344"/>
<path class="pw" d="M941,302.500 L943.500,300.500 L950,300.800 L951.500,302.500 L951.500,308 L949,309.500 L951.500,315 L951,319.500 L947.500,321.500 L942.500,321 L941,318 L942.500,314 Z"/>
<path class="p" d="M945,303 L948.500,302.800 L949,308 L947.300,308.800 L946,304 M943.500,303.500 L946.500,313.500 L947,319 M945.500,309 L949.500,317"/>
<ellipse cx="939" cy="316.500" rx="3" ry="3.400" fill="#fff" stroke="#000" stroke-width="2"/>
<circle cx="939.800" cy="317.500" r="1.300" fill="#000"/>
</g>
<g id="bolt42">
<path class="l" d="M1028.500,181 V210"/>
<path d="M1002.500,227.500 L1026,218.500" stroke="#000" stroke-width="7.600" stroke-linecap="round" fill="none"/>
<path d="M1003.500,224.800 L1005.700,230 M1006.500,223.600 L1008.700,228.800 M1009.500,222.500 L1011.700,227.700 M1012.500,221.300 L1014.700,226.500 M1015.500,220.200 L1017.700,225.400 M1018.500,219 L1020.700,224.200 M1021.500,217.900 L1023.700,223.100" stroke="#fff" stroke-width="1.100" fill="none"/>
<path class="pw" d="M1025.500,211.500 C1030,210 1035.500,213.500 1037,219 C1037.500,222 1035,224.500 1032,224.500 L1026,222.500 Z"/>
</g>
<g id="striker13">
<path class="l" d="M1056,294 V327"/><path class="lt" d="M1031,294 L1050,286.500 M1073,276.500 L1078,274.800"/>
<path class="pw" d="M1053,232.500 C1057,234 1061,238 1063,243 L1072,267.500 C1072.500,272 1071,276 1069,279.500 L1056,294 C1053,294.500 1050.500,292.500 1049,290 L1041,276 L1035.500,256 C1035.500,251 1038,247 1041.500,244 Z"/>
<path class="p" d="M1054,237 C1057,238.500 1059.500,241 1060.500,244.500 L1068.500,268 C1069,271.500 1068,274.500 1066,277.500 L1055.500,289.500 C1053.500,290 1052,288.500 1051,286.500 L1044,274.500 L1039,256 C1039,252 1041,249 1043.500,246.500 Z"/>
<ellipse class="p" cx="1051" cy="244.500" rx="2.400" ry="3"/>
<ellipse class="p" cx="1052" cy="284.500" rx="2.600" ry="3.200"/><ellipse class="k" cx="1052" cy="284.500" rx="1" ry="1.400"/>
<path d="M1042,262 L1024,269.300 L1039,277 L1056.500,268.800" fill="none" stroke="#000" stroke-width="6.400" stroke-linejoin="round" stroke-linecap="butt"/>
<path d="M1042,262 L1024,269.300 L1039,277 L1056.500,268.800" fill="none" stroke="#fff" stroke-width="2.800" stroke-linejoin="round" stroke-linecap="butt"/>
<path class="pt" d="M1029,269.500 L1039,272.500 L1041,265.500 M1039,272.500 L1043,275.500"/>
<ellipse class="pw" cx="1042.500" cy="261.500" rx="3" ry="4"/>
<ellipse class="pw" cx="1057" cy="268.500" rx="3.200" ry="4.200"/>
</g>
<g id="screw36">
<path class="l" d="M1008.200,315.500 V336"/>
<path d="M1012.500,303 L1027.500,297" stroke="#000" stroke-width="6.200" stroke-linecap="round" fill="none"/>
<path d="M1014.200,300.300 L1015.800,304.300 M1017.200,299.100 L1018.800,303.100 M1020.200,297.900 L1021.800,301.900 M1023.200,296.800 L1024.800,300.800 M1026.200,295.700 L1027.800,299.700" stroke="#fff" stroke-width="1.100" fill="none"/>
<ellipse class="pw" cx="1006.700" cy="306.700" rx="5" ry="7.200" transform="rotate(-15 1006.700 306.700)"/>
<path class="pt" d="M1004,303 L1009,310.500 M1009.500,303.500 L1004,309.500"/>
</g>
<g id="box8">
<path class="bx" d="M102,514.500 V417 L183.200,383.500 V356.300 L260,355.600 V427.600 L240.500,478 L153.500,512.500 Z"/>
<path d="M102,440 v2.1 M102,452 v2.1 M102,490 v2.1 M125,407.300 l2.8,-1.19 M150,396.800 l2.8,-1.19 M183.200,366 v2.1 M215,356 h2.800 M260,380 v2.1 M252,450 l1.05,-2.52 M215,488 l2.8,-1.12 M190,498 l2.8,-1.12 M130,513.700 h2.8 M118,514 h2.1" stroke="#fff" stroke-width="3" fill="none"/>
<path class="l" d="M220.800,485.500 V501.500"/>
</g>
<g id="inner8">
<!-- back housing -->
<path class="pw" d="M119,451 L120.300,424.500 L128,419.300 L165.800,401.600 L196,404 L206,402.800 L232,397 L160,440 Z"/>
<path class="p" d="M123,426 L130,430 L160,416 L200,405 M130,430 L130,440 M120.300,424.500 L123,426 L122,445 M143,410 L143,413 L165,403.500 M124,436 L130,438 M124,441 L128,442.500"/>
<!-- bezel front -->
<path class="pw" d="M120.300,458.500 C120.800,453 122,450 124,447 C128,441 133,437.500 138,435.500 L231.600,397.800 C235,396.500 238,396 240.500,396.500 C244,397.500 246.300,400 246.800,403 C247.800,408 248.200,413 248,418 C247.500,429 246.300,439 244.300,448.500 C242.500,456 240,463 236.700,468.600 C234,473.500 230.500,478 226.500,481 L138,504 C133,505 128.500,504 125.400,501.500 C122.500,499.500 120.800,497 120.300,494 Z"/>
<path class="p" d="M119,451 C119.500,446 121,442 123.500,439 C127,434.500 131,432 135.500,430.500 L229,393.500 C233,392.500 237,392.500 240.500,396.500 M119,451 L119,490 L120.300,494"/>
<!-- opening -->
<path class="p" d="M155.800,453.800 C156.300,450 157,447 158.100,444.500 C160,441.500 162.500,439.500 165,438.400 L218.700,411.500 C223,409.500 227,408.500 231,408.400 C234,409 236,410 237.200,411.500 C238.500,414 239.300,417 239.500,420 C239.800,426 239.500,432 238.700,438.400 C237.500,443 235.500,447 232.600,450.700 C229.500,454.500 226,457.500 221.800,459.900 L165,479.900 C162.500,479.800 160.500,479.300 158.800,478.300 C157,476.800 156,474.800 155.800,472.200 Z"/>
<path class="p" d="M159.600,446.100 L217.200,414.600 C221.500,412.700 225.500,411.700 229.500,411.500 C232,412 233.800,413 234.900,414.600 C235.800,416.800 236.300,419 236.400,421.500 L235.600,438.400 C234.500,442.500 232.800,446 230.300,449.200 C227.500,452.300 224.200,454.800 220.300,456.800 L168,474.500 C166,474.600 164.200,474.400 162.700,473.700 C161.300,472.500 160.600,471 160.400,469.100"/>
<!-- lever inside -->
<path class="p" d="M160.400,459.100 L186.500,449.900 L187.200,430.700 M158.100,466.100 L190.300,453 L195.700,449.200 L195.700,436.900 L191.100,429.200 M163.400,472.200 L209.500,453 L227.900,444.500 M161.500,469 L206,450.500 L208.700,446.100 L213.400,438.400 L212.600,427.600 L217.200,425.300 L224.900,429.200 L234.100,425.300 M198,430 L198,423 M199,437 L209,442 M199,430.500 L211,436"/>
<path class="k" d="M184.500,429.500 L187.500,429 L188,438 L185,438.500 Z M158.500,457 L161.500,455.500 L162,458.500 L158.800,459.800 Z M164.500,454.500 L168,453 L168.300,456.200 L165,457.500 Z M171.500,451.500 L175,450 L175.300,453.200 L172,454.500 Z M177.500,447.500 L180.500,446.200 L181,450.500 L178,451.500 Z"/>
<path class="p" d="M175.500,432.500 C174,434.500 175.500,437 178,436 L182.500,432.500"/>
<path class="lt" d="M191.100,430.700 L253,456.800"/>
</g>
<g id="clip38a">
<path class="l" d="M114.600,359 V385"/><path class="lt" d="M122.500,401.800 L140.500,409.500"/>
<path class="pw" d="M100.800,389.100 L108,385.100 L112.500,384.300 L121.800,388.800 L122.500,400.400 L109.500,407.600 L101.200,401.800 Z"/>
<path class="p" d="M100.800,389.100 L108.800,393.800 L109.500,407.600 M108.800,393.800 L121.800,388.800 M104.500,388.800 L105.500,386.500 L108.500,387 L109,390.500 M110,386.500 L111,384.800 L114,385.300 L114.500,388.500"/>
<path class="pt" d="M110.800,395.200 L120.500,390.800 L121,399.500 L111.400,405.200 Z"/>
<circle cx="116.400" cy="399.300" r="2.500" fill="#fff" stroke="#000" stroke-width="1.900"/><circle cx="116.700" cy="399.500" r="0.900" fill="#000"/>
</g>
<g id="p21">
<path class="l" d="M222.600,375.300 H233.500"/>
<path class="pw" d="M195.400,375.900 L203,373.700 L208.400,368.300 L211.700,366.100 L219.300,365.700 L222.600,368.300 L222.600,374.800 L219.300,378.100 L210.600,381.300 L209.500,386.800 L206.300,388.900 L203,386.800 L202.600,381.300 L195.400,377 Z"/>
<path class="p" d="M211.700,366.100 L212.700,372.500 L220.400,371.500 L219.300,365.700 M212.700,372.500 L208.400,376 L203,373.700 M208.400,376 L219.300,378.100 M202.600,381.300 L206,379.500 L210.600,381.300"/>
<path class="k" d="M195.400,375.900 L203,374.500 L203,378 L195.400,377 Z M213.500,367.500 L218.500,367 L219,370.500 L214,371 Z"/>
<ellipse cx="206.200" cy="385" rx="2.300" ry="2.800" fill="#fff" stroke="#000" stroke-width="1.700"/>
</g>
<g id="screw35a">
<path class="l" d="M272.500,437 V456.500"/>
<path d="M256,457 L266,461.500" stroke="#000" stroke-width="5.600" stroke-linecap="butt" fill="none"/>
<path d="M258,455.500 L256.800,460.500 M260.500,456.600 L259.300,461.600 M263,457.700 L261.800,462.700" stroke="#fff" stroke-width="1" fill="none"/>
<path class="k" d="M252,455.500 L257,455 L255.500,460.500 Z"/>
<ellipse cx="268.300" cy="463" rx="2.400" ry="5" transform="rotate(22 268.300 463)" fill="#fff" stroke="#000" stroke-width="1.900"/>
<path d="M270,459 C273.500,459.500 275.500,461.800 274.800,464.500 C274,467.200 271.500,468 268.500,467.300 Z" fill="#fff" stroke="#000" stroke-width="1.900" stroke-linejoin="round"/>
</g>
<g id="cap9a">
<path class="l" d="M297.800,447 V474.500"/>
<path class="pw" d="M263,492 C263,490 264,489 266,488 L297,474.800 C301,473.500 304,474.500 305,477 L306.800,503 C307,507 305,509.500 301.500,511 L270,523.500 C266,524.500 263.500,522.500 263,518.500 Z"/>
<path class="p" d="M265.500,493 L265.500,519 C266,521 268,522 270,521.500"/>
<path class="p" d="M278,479.500 L280,477.500 L283,478.500"/>
</g>
<g id="fr">
<path d="M26.500,530.700 L32.500,515.700 L34.700,519.500 L58,511.200 L62.500,525.500 L40.700,533.700 L41.500,538.200 Z" fill="#000" stroke="#000" stroke-width="1" stroke-linejoin="miter"/>
<text x="62.800" y="523.300" transform="rotate(-19 62.800 523.300)" style="font-family:'Liberation Sans',sans-serif;font-weight:bold;font-size:19px;fill:#000;stroke:#000;stroke-width:0.900;filter:grayscale(1);">FR.</text>
</g>
<g id="clip28">
<path class="l" d="M242.500,298 H269"/>
<path class="pw" d="M269.200,293.400 L275.700,288 L292,283.700 L297.400,284.800 L298.500,296.700 L295.300,300 L298.500,303.200 L298.500,309.700 L281.100,315.100 L276.800,314.100 L276.800,307.600 L269.200,304.300 Z"/>
<path class="p" d="M275.700,288 L276.800,295.600 L276.800,307.600 M269.200,293.400 L273,295.500 L273,303 M281.100,290.200 L282.200,313 M276.800,301.500 L285.500,301.500 M276.800,298.500 L282,298 M285.500,288 L286,296 L292,297.500 L296,295 M286.500,304 L287,310.500 L293,309 L297,306"/>
<path class="k" d="M287.500,289.500 L295.500,287.500 L296,293 L291,295.500 L287.500,294 Z M288,305 L296,303 L296.500,307.500 L288.500,309.500 Z"/>
<path d="M290,290.500 L293.500,289.800 L293.500,292 L290,292.600 Z" fill="#fff"/>
</g>
<g id="bigbox">
<path class="bx" d="M332.500,541 V334 L423,290.500 H592.500"/>
<path d="M332.500,520 v2.1" stroke="#fff" stroke-width="3" fill="none"/>
</g>
<g id="box25">
<path class="bx" d="M572,312 H479.500 V353 L400,384.500 V473 L506,516.200 H542.500 V433.800 H572 V312"/>
<path d="M572,380 v2.500 M572,393 v2.500 M572,350 v2 M520,312 h2.800 M532,312 h2.800 M479.500,330 v2.1 M455,362.700 l2.8,-1.12 M440,489.300 l2.8,1.12 M470,501.500 l2.8,1.12 M512,516.200 h2.1 M522,516.200 h2.1 M532,516.200 h2.1 M542.500,480 v2.100 M542.500,460 v2.100" stroke="#fff" stroke-width="3" fill="none"/>
<path class="l" d="M442.800,492 V510.500"/>
</g>
<g id="cap9b">
<path class="l" d="M368.800,372 V395"/>
<path class="pw" d="M347,347 C347,343 349,340.500 352.500,339.200 L383,328.400 C386.500,327.500 388.700,329 388.700,332 L388.700,355.500 C388.700,358.500 387,360.500 385,361 L352.500,371.700 C349,372 347,370.500 347,368 Z"/>
<path class="p" d="M350.700,348.500 C350.700,346 352,344.500 354,344 L381.400,335 L381.400,359 L354,368 C352,368.500 350.700,367.500 350.700,366 Z"/>
<path class="p" d="M358,343 L358,366.500 M358,353.700 L381.400,347.200 M368,364 L368,361 L374,359 L374,362"/>
<ellipse class="pt" cx="372.500" cy="338" rx="1.800" ry="1"/><ellipse class="pt" cx="363.500" cy="370" rx="1.800" ry="1"/><ellipse class="pt" cx="381.500" cy="363" rx="1.800" ry="1"/>
</g>
<g id="screw35b">
<path class="l" d="M388.700,381 V409.500"/>
<path class="pw" d="M383.500,372 C386,369 391,369.500 392.500,373 L393,378 C392,381 387,381.500 384.500,379.500 Z"/>
<ellipse class="pw" cx="392.500" cy="376" rx="2.200" ry="4.600" transform="rotate(-15 392.500 376)"/>
<path class="pw" d="M394.500,373.500 L405,378 L407.500,383 L395.500,379.500 Z"/>
<path class="pt" d="M397,374.500 L396.500,380 M399.500,375.600 L399,380.800 M402,376.700 L401.500,381.600 M404.500,377.800 L404,382.300"/>
<path class="k" d="M405,378 L408,383.500 L404,382 Z"/>
</g>
<g id="housing">
<!-- bezel -->
<path class="pw" d="M405,396 C405.200,393 405.700,391 406.400,389.600 C407.500,386.500 409.200,384.500 411.400,383.200 L516.400,344 C520,343 523,343 525.300,344 C529,346 531.500,349 532.900,353 L534,360.500 L529,368 L449.400,380.700 L440.500,446.500 L427.900,440.200 L414,438.900 C410,436.500 407.500,433 406.400,428.800 Z"/>
<path class="p" d="M410.200,392.100 C411,389.500 412.800,387.500 415.200,386.300 L516.400,347.800 C519.500,347 522,347 524,347.800 C526.500,349.500 528.200,352 529.100,355.400 M410.200,392.100 L410,426 C411,430 413,433 416,435"/>
<path class="p" d="M420.300,421 L420.300,403.500 C421,400 423,397.500 425.400,396 L438,389.600 L516.400,351.600 C519,351 521,351.200 522.500,352 C524,353.500 525,355.500 525.500,358"/>
<path class="p" d="M416,435 C420,437 424,437.200 428,436.900"/>
<!-- left round opening -->
<ellipse class="pw" cx="430" cy="416" rx="10.500" ry="19.500" transform="rotate(8 430 416)"/>
<ellipse class="p" cx="432" cy="416.500" rx="8.500" ry="17" transform="rotate(8 432 416.500)"/>
<!-- housing body -->
<path class="pw" d="M449.400,380.700 L511.400,358 L524,374.400 L529,387 L529,403.500 L524,415 L483.500,435 L477.200,431.300 L449.400,421.200 Z"/>
<path class="p" d="M476,398.400 C476.500,396 478.500,394.200 481,393.400 L519,379.400 C521.500,379 523.800,379.500 525.300,380.700 M476,398.400 L476,421.200 C476.200,426 477,429.500 478.500,432.600"/>
<path class="p" d="M480,400.500 C480.500,398.500 482,397 484,396.400 L518,384 C521,383.500 523.500,384.500 524.500,387 L524.500,402 C523.500,406.500 521.500,410 519,412.500 L487,428.500 C483,429.500 480.500,428 480,424.500 Z"/>
<path class="p" d="M463.300,389 L463.300,426.500 M449.400,380.700 L476,398.400 M455,379 L455,384"/>
<path class="pt" d="M470,368 L470.500,371 M495,359 L495.500,362 M505,393 L505.500,396 M488,423 L489,426 M512,412 L513.500,414.500"/>
<circle class="pw" cx="493.700" cy="420" r="7.600"/><circle class="k" cx="494.500" cy="420.500" r="3.400"/>
<circle class="pw" cx="521.500" cy="401.500" r="7"/><circle class="p" cx="522" cy="402" r="2.600"/>
<!-- clip tabs -->
<path class="pw" d="M439.500,385.500 L444,383.200 L455.700,390 L455.700,396 L450,393 Z"/>
<path class="pt" d="M442,384.500 L453,391 M444,386 L444,388.500 M447,388 L447,390.500 M450,390 L450,392.500"/>
<path class="pw" d="M428,434.500 L446,431.300 L449.400,436 L449.400,446.500 L440.500,446.500 L428,440.200 Z"/>
<path class="pt" d="M431,436 L444,442.500 M434,435.500 L447,442 M436,440 L436,443 M440,442 L440,445"/>
<!-- right bracket -->
<path class="pw" d="M524,368 L539,373 L541.700,383 L541.700,398.500 L548,403.500 C549.500,406 549,408 548,408.500 L541.700,412.300 L533,412.300 L530,408 L534,404 L534,380 Z"/>
<path class="k" d="M527,372 L536,375 L537,381 L530,379 Z M535,384 L540,385 L540,395 L535,394 Z"/>
<circle class="pt" cx="541" cy="406.500" r="1.600"/>
<path class="p" d="M530,360 L533,366 L539,368 M534,390 L528,388"/>
<path class="lt" d="M496.500,421.500 L552,445"/>
<path class="l" d="M543,344 V372" stroke-dasharray="12 3"/>
<path class="l" d="M541,417.500 L541.500,421"/>
</g>
<g id="p33">
<path class="l" d="M510,330.600 H536.500"/>
<path class="pw" d="M547,321 L550,318.500 L557,319.500 L557,329 L553,331.500 L547,330.500 Z"/>
<path class="k" d="M551.500,322 L556,322.500 L556,328 L551.500,327.500 Z"/>
<ellipse class="pw" cx="543" cy="331.500" rx="5.600" ry="3.600"/>
<path class="p" d="M538,333 C539,336 546,336.500 548,333.500 M541,336 L541.500,339 L544.500,339.500 L545,336"/>
<path class="pt" d="M539.500,330 L546.500,330.500"/>
</g>
<g id="clip38b">
<path class="l" d="M577,452.300 H602.500"/>
<path class="pw" d="M557.700,446.500 L569.600,441.800 L573.300,445.400 L573.600,447.900 L575.800,449 L576.200,456.600 L573.600,459.200 L570.400,459.500 L570,461 L558.400,461.700 L557.300,459.500 Z"/>
<path class="k" d="M557.700,446.500 L563,448.500 L563.500,461.300 L558.400,461.700 L557.300,459.500 Z M570.400,447.500 L573.600,447.900 L573.600,459.200 L570.400,459.500 Z"/>
<path d="M559.800,448.800 L560.200,459.800" stroke="#fff" stroke-width="0.900" fill="none"/>
<path class="p" d="M563,448.500 L569.800,445.500 L573.300,445.400 M565,450.500 L570,448.500 L570,460.500 M565,450.500 L565,461 M561,445.500 L568,444"/>
</g>
<g id="p43">
<path class="l" d="M533,468 V490"/><path class="lt" d="M470,434.500 L495.500,449 M508.500,456 L517,459.700 M509.700,468.100 L527.700,476.500 M537.400,479 L555.400,487.400"/>
<path d="M512,458 l2.1,0.91 M518,472 l2.1,0.98 M545,482.500 l2.1,0.98" stroke="#fff" stroke-width="3" fill="none"/>
<!-- bracket left arm -->
<path class="pw" d="M477.200,483.700 L484.400,463.300 C488,458 492,455 496.500,452.500 L508.500,450 L511,455 L497.700,458.500 C494,461 491,464.500 489.200,468.100 L484.400,485 L480.800,488.600 Z"/>
<path class="pw" d="M506,464.500 L509.700,467 L506,492.200 L493,500.600 L486.800,499.400 L485.600,495.800 L490.400,493.400 L501.300,487.400 L502.500,468 Z"/>
<circle class="pt" cx="490" cy="497" r="1.800"/>
<path class="k" d="M506,451 L510,450.500 L510.500,455 L507,455.500 Z M503,465 L508,465.500 L508,469 L503.500,468.500 Z"/>
<path class="pt" d="M478,484.500 L483,487 M503.500,476 L507,477"/>
<!-- screw 43 -->
<path class="pw" d="M517,457 L531,461.500 L531,467 L519,462.500 Z"/>
<path class="pt" d="M520,458 L519.500,463 M523,459 L522.500,464 M526,460 L525.500,465 M529,461 L528.500,466"/>
<path class="k" d="M516.500,457 L520,458 L519,462 Z"/>
<ellipse class="pw" cx="534" cy="464.500" rx="3.200" ry="5" transform="rotate(15 534 464.500)"/>
</g>
<g id="p1">
<path class="l" d="M594.500,522.800 H626.500"/><path class="lt" d="M589.400,501.600 L597,505.400"/>
<path class="pw" d="M551.400,501.600 L559,490.800 L569.700,487 L575.400,489.600 L576.100,494 L572.300,495.900 L576.700,499.100 L581.800,495.300 L587.500,495.900 L588.700,499.700 L584.900,502.200 L586.200,514.200 L590.600,515.500 L594.400,518.700 L594.400,525.600 L584.900,530.700 L578,528.800 L575.400,523.700 L570.400,519.300 L567.200,520.600 L562.200,518.700 L556.500,511.700 L554,506 Z"/>
<path class="p" d="M559,490.800 L561.500,500.500 L560.300,506.600 L563.400,515.500 M567.200,492.700 L566.600,506.600 L564.100,517.400 M570.400,496 L565.300,516.800 M569.700,487 L571,492 L567.200,492.700 M572.300,495.900 L571.600,506.500 L570.400,519.300 M576.700,499.100 L576.100,516.800 L583,518 L590.600,515.500 M576.100,516.800 L575.400,523.700 M581.800,495.300 L583.500,500.500 L588.700,499.700 M571,503 L576.500,506"/>
<path class="k" d="M583,519.500 L593,517.500 L594.400,525.600 L585,529.500 Z M563.500,497 L566,496.500 L565.500,505 L563,505.500 Z"/>
<path d="M586,520.500 L586.500,528 M588.500,520 L589,527 M591,519.300 L591.500,526" stroke="#fff" stroke-width="0.900" fill="none"/>
</g>
<g id="bolt41">
<path class="l" d="M621,513.500 H647"/>
<use href="#bolt" transform="translate(611,511.300) rotate(27) scale(0.720)"/>
</g>
<g id="screw44">
<path class="l" d="M616,333 V350.500"/>
<path class="pw" d="M620,323.500 L630.500,319 L631.500,322.500 L621.500,328 Z"/>
<path class="pt" d="M622.500,322.500 L624,326.500 M625,321.400 L626.500,325.300 M627.500,320.300 L629,324"/>
<circle class="pw" cx="615.600" cy="327.700" r="4.800"/>
<path class="pt" d="M614,325 L616.500,330"/>
</g>
<g id="p7">
<path class="l" d="M676.800,354 V361.500"/>
<!-- left arm -->
<path class="pw" d="M627.800,284.800 L641.500,279.800 L654,277.300 L656.500,283.500 L644,287.300 L630.300,289.800 Z"/>
<path class="p" d="M632,283.500 L632.500,289 M641.500,279.800 L642.500,283.500 L654,281.500 M642.500,283.500 L643,287.300"/>
<!-- top hook -->
<path class="pw" d="M656.200,273.500 L661.600,270.200 L668,274.500 L669.200,285.400 L667,292 L662,290 L659.500,279 Z"/>
<path class="p" d="M661.600,270.200 L663,276 L666,289"/>
<!-- column -->
<path class="pw" d="M649,287 L654,283.500 L660,286 L664,299.800 L664,308.500 L657.800,306 L655.300,307.300 L652.800,323.500 L647.800,313.500 Z"/>
<path class="k" d="M647.800,299 L650,298 L650,303.500 L647.800,304.500 Z"/>
<!-- upper right box -->
<path class="pw" d="M665.300,294.800 L676.500,288.500 L681,290 L686,286.500 L692,285.500 L692.800,289.800 L689,291.500 L689.500,295.500 L707.800,291 L711.500,293.500 L711.500,313.500 L702.800,317.300 L685.300,319.800 L674,317.300 L666.500,308.500 Z"/>
<path class="p" d="M665.300,294.800 L685.300,302.300 L711.500,293.500 M685.300,302.300 L685.300,319.800 M678,290.500 L679.500,295 L685,293.500 L684.500,290.500 M681,290 L681.500,292.500"/>
<!-- lower right wedge -->
<path class="pw" d="M674,317.300 L685.300,319.800 L699,317.300 L702.800,319.800 L701.500,342.300 L685.300,352.300 L676.500,351 L674,343.500 L675.300,337.300 L666.500,332.300 L671.500,321 Z"/>
<path class="p" d="M685.300,319.800 C680,326 676.500,332 675.300,337.300"/>
<!-- centre blade -->
<path class="pw" d="M655.300,307.300 L657.800,306 L671.500,313.500 L674,317.300 L671.500,321 L666.500,327.300 L652.800,329.800 L652.800,323.500 Z"/>
<path class="p" d="M657.800,306 L659.500,325 M662,309 L663,324"/>
<!-- left foot -->
<path class="pw" d="M639,322.300 L644,319.800 L649,324.800 L664,324.800 L666.500,327.300 L652.800,329.800 L645.300,339.800 L637.800,344 L634,341 Z"/>
<path class="p" d="M649,324.800 L644,334 L640,340"/>
</g>
<g id="bolt37">
<path class="l" d="M735.400,389 V401.500"/>
<use href="#bolt" transform="translate(726,410.500) rotate(157) scale(0.950)"/>
<path class="pt" d="M714.500,412.500 L718.500,417.500 M718.500,412 L715,417.500"/>
</g>
<g id="p5">
<path class="l" d="M809.500,444.200 H826.500"/>
<path class="pw" d="M775.100,384.400 C775.500,382 777,380.500 779.100,380.200 L785,380.900 C786.800,382 787.800,383.500 788.100,385.600 L788.100,400.900 L789.700,404.400 L805,411.500 L807.400,416.200 L807.800,429.100 L809.200,432.600 L809.200,443.200 L802.600,447.900 L802.600,452.600 L810.900,460.900 L812.500,465.600 L813.200,483.200 L806.200,491.500 L797.900,491.500 L772.100,482.100 L756.800,478.500 L752.100,476.200 L750.900,471.500 L739.100,459.700 L737.900,431.500 L747.400,419.700 L760.300,412.600 L761.500,404.400 L769.700,402.100 L775.100,397.400 Z"/>
<circle class="pt" cx="780.300" cy="387.900" r="2"/><circle class="pt" cx="799.800" cy="418.500" r="1.800"/><circle class="pt" cx="755.600" cy="476.600" r="1.500"/>
<path class="p" d="M742.600,432.600 L749.700,423.200 L762.600,416.200 L788.500,410.300 L801.500,416.200 L803.800,430.300 L805,434 L805,441.500 L798.500,446.500 L798.500,454 L806.500,462.500 L808.500,467 L809,481.500 L804,487.500 L798.500,487.500 L773,478 L758,474.500 L755,471 L743,458 Z"/>
<path class="p" d="M788.100,400.900 L784,407.500 L788.500,410.300 M761.500,404.400 L766,409 L762.600,416.200 M766,409 L784,407.500 M764,398 L768,396 L769.700,402.100"/>
<circle class="pw" cx="748.500" cy="443.200" r="7.600"/>
<path class="p" d="M742.500,438.500 C741,441.500 741,445 742.500,448"/>
<!-- slots -->
<path class="p" d="M761.500,422 L766.200,421.600 L766.900,432.600 L762.200,433.300 Z M769.700,422 L774.400,423.200 L774.400,431.500 M749.700,422 L758,423.200 L758,430.300 Z M761.500,460.900 L766.200,459.700 L766.900,470.300 L762.200,470.300 Z M740.300,455 L746.200,456.200 L746.200,463.200 Z"/>
<path class="k" d="M748.500,463.200 L756.800,462 L756.800,465.600 L748.500,466.500 Z"/>
<!-- connector 1 -->
<path class="pw" d="M770.900,433.800 L786.200,427.900 L793.200,433.800 L794.400,445.600 L779.100,452.600 L770.900,447.900 Z"/>
<path d="M780.500,431.500 L786.200,428.500 L792.700,434 L793.800,445.300 L780.800,451.500 Z" fill="#000" stroke="#000" stroke-width="1"/>
<path d="M783,431 L783.500,450 M785.500,430 L786.200,449 M788,430.500 L788.800,447.800 M790.500,432.500 L791.300,446.500" stroke="#fff" stroke-width="0.900" fill="none"/>
<path class="p" d="M770.900,433.800 L780.300,435 L780.300,451.500 M780.300,435 L786.200,427.900"/>
<path class="p" d="M773,437.500 L778,438 L778,442 L773,441.500 Z M773,443.500 L778,444 L778,448.500 L773,447.500 Z"/>
<!-- connector 2 -->
<path class="pw" d="M769.700,467.900 L785,459.700 L792.100,465.600 L792.100,473.800 L777.900,480.900 L769.700,478.500 Z"/>
<path d="M779,468 L785,460.500 L791.600,465.800 L791.600,473.500 L779,480 Z" fill="#000" stroke="#000" stroke-width="1"/>
<path d="M781.500,466.500 L781.800,478.500 M784,463.500 L784.500,477.200 M786.500,462.500 L787,476 M789,464.500 L789.500,474.500" stroke="#fff" stroke-width="0.900" fill="none"/>
<path class="p" d="M769.700,467.900 L777.900,469 L777.900,480.900 M777.900,469 L785,459.700"/>
<path class="p" d="M772,471.500 L776,472 L776,477 L772,476 Z"/>
<path class="p" d="M778,452.600 L778,460 M782,452 L782,458 L786,459.500 M790,456 L796,462 L796,470"/>
</g>
</svg>
</body>
</html>
